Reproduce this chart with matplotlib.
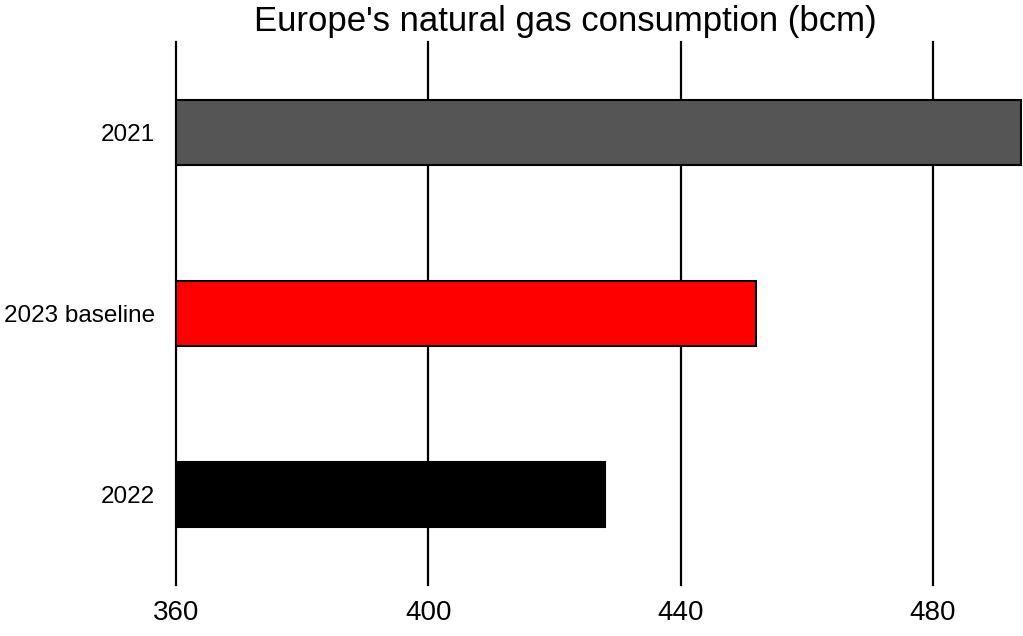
"""Europe's natural gas consumption bar chart."""
import matplotlib
matplotlib.use("Agg")
import matplotlib.pyplot as plt

plt.rcParams['font.family'] = ['Liberation Sans', 'DejaVu Sans']

categories = ['2021', '2023 baseline', '2022']
values = [494, 452, 428]
bar_colors = ['#555555', '#ff0000', '#000000']
xticks = [360, 400, 440, 480]


def main():
    fig = plt.figure(figsize=(10.23, 6.36), dpi=100)
    ax = fig.add_axes([176 / 1023, 1 - 585 / 636, (1022 - 176) / 1023, (585 - 42) / 636])

    ypos = list(range(len(categories)))[::-1]
    ax.barh(ypos, [v - 360 for v in values], left=360, height=0.355,
            color=bar_colors, edgecolor='black', linewidth=1.5, zorder=3)

    ax.set_xlim(360, 494.1)
    ax.set_ylim(-0.5, 2.5)
    ax.set_xticks(xticks)
    ax.set_xticklabels([str(t) for t in xticks], fontsize=20)
    ax.set_yticks(ypos)
    ax.set_yticklabels(categories, fontsize=17.5)
    ax.tick_params(axis='both', length=0)
    ax.tick_params(axis='x', pad=11)
    ax.tick_params(axis='y', pad=15)

    for t in xticks:
        ax.axvline(t, color='black', linewidth=1.6, zorder=1, clip_on=False)

    for s in ax.spines.values():
        s.set_visible(False)

    fig.text(0.553, 1 - 22 / 636, "Europe's natural gas consumption (bcm)",
             ha='center', va='center', fontsize=25)

    fig.savefig('out.png', dpi=100)
    plt.close(fig)


if __name__ == "__main__":
    main()
